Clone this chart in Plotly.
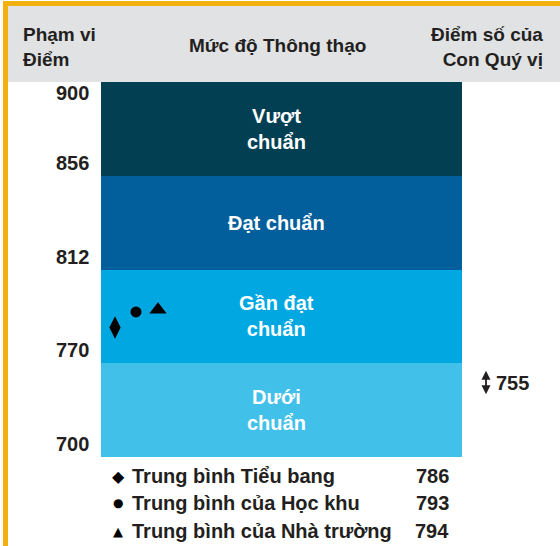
import numpy as np
import plotly.graph_objects as go

# ---------------- data ----------------
band_bounds = [700, 770, 812, 856, 900]          # score boundaries (bottom -> top)
band_labels = ["Dưới<br>chuẩn", "Gần đạt<br>chuẩn", "Đạt chuẩn", "Vượt<br>chuẩn"]
band_colors = ["#41C0EA", "#00A7E1", "#035F9B", "#023F53"]

avg_names = ["Trung bình Tiểu bang", "Trung bình của Học khu", "Trung bình của Nhà trường"]
avg_values = [786, 793, 794]
avg_symbols = ["diamond-tall", "circle", "triangle-up"]
avg_glyphs = ["◆", "●", "▲"]

student_score = 755

header_left = "Phạm vi<br>Điểm"
header_mid = "Mức độ Thông thạo"
header_right = "Điểm số của<br>Con Quý vị"

# ---------------- layout geometry (pixels) ----------------
W, H = 560, 546
BAND_TOP_PX, BAND_BOT_PX = 82, 457
BAND_LEFT_PX, BAND_RIGHT_PX = 101, 462
unit = (BAND_BOT_PX - BAND_TOP_PX) / 4.0
y_lo = -(H - BAND_BOT_PX) / unit
y_hi = 4 + BAND_TOP_PX / unit

def paper_y(py):
    return 1 - py / H

def paper_x(px):
    return px / W

def score_pos(v):
    return float(np.interp(v, band_bounds, np.arange(len(band_bounds))))

FONT = "Liberation Sans, Arial, sans-serif"
DARK = "#231F20"

fig = go.Figure()

# bands
idx = np.arange(len(band_labels))
fig.add_trace(go.Bar(
    x=[(BAND_LEFT_PX + BAND_RIGHT_PX) / 2] * len(band_labels),
    y=[1] * len(band_labels),
    base=idx,
    width=BAND_RIGHT_PX - BAND_LEFT_PX,
    marker=dict(color=band_colors, line=dict(width=0)),
    hoverinfo="skip",
    showlegend=False,
))

annotations = []
# band labels
for i, lab in enumerate(band_labels):
    annotations.append(dict(
        x=276, y=i + 0.5, xref="x", yref="y", text=lab, showarrow=False,
        xanchor="center", yanchor="middle", align="center",
        font=dict(color="white", size=20, family=FONT, weight="bold"),
    ))

# average markers
marker_x = [115, 136, 158]
marker_sizes = [16, 11, 15]
for name, v, sym, mx, ms in zip(avg_names, avg_values, avg_symbols, marker_x, marker_sizes):
    fig.add_trace(go.Scatter(
        x=[mx], y=[score_pos(v)], mode="markers",
        marker=dict(symbol=sym, size=ms, color="black", line=dict(width=0)),
        name=name, showlegend=False, hoverinfo="skip",
    ))

# tick labels at band boundaries
for i, b in enumerate(band_bounds):
    top = i == len(band_bounds) - 1
    annotations.append(dict(
        x=91, y=i, xref="x", yref="y", text=str(b), showarrow=False,
        xanchor="right", yanchor="top" if top else "bottom",
        yshift=2 if top else 0,
        font=dict(size=20, color=DARK, family=FONT, weight="bold"),
    ))

# header
hfont = dict(size=19, color=DARK, family=FONT, weight="bold")
annotations.append(dict(x=paper_x(21), y=paper_y(47), xref="paper", yref="paper",
                        text=header_left, showarrow=False, xanchor="left", yanchor="middle",
                        align="left", font=hfont))
annotations.append(dict(x=paper_x(277), y=paper_y(45), xref="paper", yref="paper",
                        text=header_mid, showarrow=False, xanchor="center", yanchor="middle",
                        font=hfont))
annotations.append(dict(x=paper_x(545), y=paper_y(47), xref="paper", yref="paper",
                        text=header_right, showarrow=False, xanchor="right", yanchor="middle",
                        align="right", font=hfont))

# student score
sp = score_pos(student_score)
annotations.append(dict(x=486, y=sp, xref="x", yref="y", text="", showarrow=True,
                        ax=0, ay=25, yshift=12.5, arrowside="end+start", arrowhead=2,
                        arrowsize=1, arrowwidth=1.8, arrowcolor=DARK, standoff=0,
                        startstandoff=0))
annotations.append(dict(x=494, y=sp, xref="x", yref="y", text=str(student_score),
                        showarrow=False, xanchor="left", yanchor="middle",
                        font=dict(size=20, color=DARK, family=FONT, weight="bold")))

# legend rows
row_y = [476, 503, 531]
glyph_sizes = [16, 12, 13]
for name, v, g, ry, gs in zip(avg_names, avg_values, avg_glyphs, row_y, glyph_sizes):
    annotations.append(dict(x=paper_x(118), y=paper_y(ry), xref="paper", yref="paper",
                            text=g, showarrow=False, xanchor="center", yanchor="middle",
                            font=dict(size=gs, color="black", family="DejaVu Sans")))
    annotations.append(dict(x=paper_x(130), y=paper_y(ry), xref="paper", yref="paper",
                            text=name, showarrow=False, xanchor="left", yanchor="middle",
                            font=dict(size=20, color=DARK, family=FONT, weight="bold")))
    annotations.append(dict(x=paper_x(451), y=paper_y(ry), xref="paper", yref="paper",
                            text=str(v), showarrow=False, xanchor="right", yanchor="middle",
                            font=dict(size=20, color=DARK, family=FONT, weight="bold")))

shapes = [
    # header background
    dict(type="rect", xref="paper", yref="paper", x0=paper_x(8), x1=1,
         y0=paper_y(BAND_TOP_PX), y1=paper_y(6), fillcolor="#E1E2E4",
         line=dict(width=0), layer="below"),
    # yellow frame: top and left
    dict(type="rect", xref="paper", yref="paper", x0=paper_x(3), x1=1,
         y0=paper_y(6), y1=paper_y(1), fillcolor="#F4B00F", line=dict(width=0), layer="below"),
    dict(type="rect", xref="paper", yref="paper", x0=paper_x(3), x1=paper_x(8),
         y0=0, y1=paper_y(1), fillcolor="#F4B00F", line=dict(width=0), layer="below"),
]

fig.update_layout(
    width=W, height=H, autosize=False,
    margin=dict(l=0, r=0, t=0, b=0, pad=0),
    paper_bgcolor="white", plot_bgcolor="white",
    barmode="overlay", bargap=0,
    xaxis=dict(range=[0, W], visible=False, fixedrange=True),
    yaxis=dict(range=[y_lo, y_hi], visible=False, fixedrange=True),
    annotations=annotations, shapes=shapes,
    showlegend=False,
)

fig.write_html(
    "out.html",
    config={"displayModeBar": False},
    post_script="document.body.style.margin='0';document.body.style.overflow='hidden';",
)
